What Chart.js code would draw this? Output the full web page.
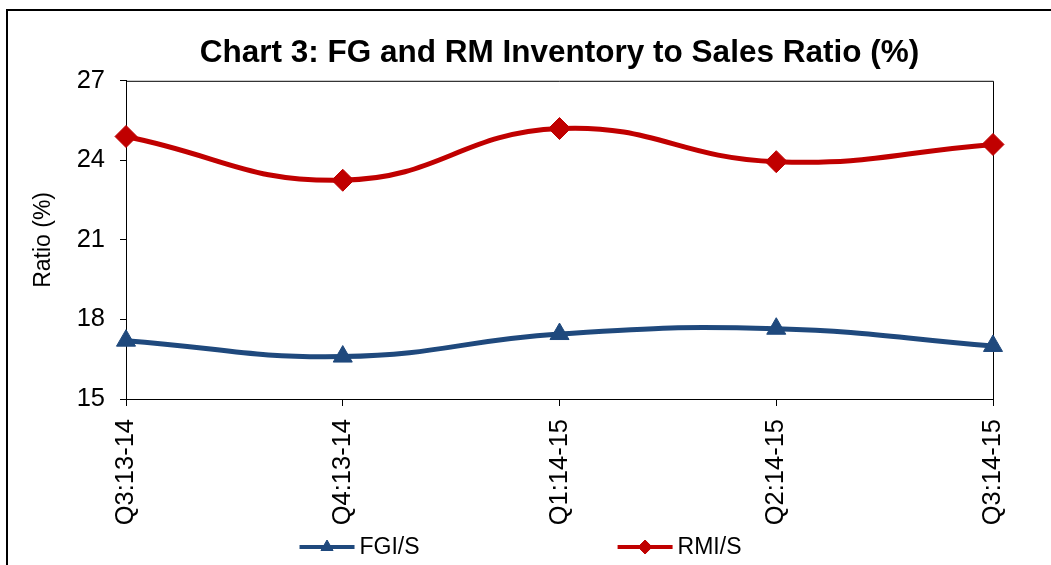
<!DOCTYPE html>
<html>
<head>
<meta charset="utf-8">
<script src="https://cdn.jsdelivr.net/npm/chart.js@4.4.1/dist/chart.umd.min.js"></script>
<style>
  html, body { margin: 0; padding: 0; background: #fff; }
  #wrap { width: 1051px; height: 565px; }
</style>
</head>
<body>
<div id="wrap"><canvas id="grafico" width="1051" height="565"></canvas></div>
<script>
  // Datos
  const trimestres = ['Q3:13-14', 'Q4:13-14', 'Q1:14-15', 'Q2:14-15', 'Q3:14-15'];
  const fgiS = [17.2, 16.6, 17.45, 17.65, 17.0];   // FGI/S
  const rmiS = [24.9, 23.25, 25.2, 23.95, 24.6];   // RMI/S
  const ejeYMin = 15;
  const ejeYMax = 27;
  const ejeYPaso = 3;

  const fuente = "'Liberation Sans', Arial, sans-serif";
  const fuenteTitulo = "'Liberation Sans Narrow', 'Arial Narrow', 'Liberation Sans', sans-serif";

  // Marco exterior y borde del área del gráfico
  const marcos = {
    id: 'marcos',
    beforeDraw(chart) {
      const ctx = chart.ctx;
      ctx.save();
      ctx.fillStyle = '#fff';
      ctx.fillRect(0, 0, chart.width, chart.height);
      ctx.strokeStyle = '#000';
      ctx.lineWidth = 2;
      ctx.beginPath();
      ctx.moveTo(7, chart.height);
      ctx.lineTo(7, 10);
      ctx.lineTo(chart.width, 10);
      ctx.stroke();
      ctx.restore();
    },
    beforeDatasetsDraw(chart) {
      const a = chart.chartArea;
      const ctx = chart.ctx;
      ctx.save();
      ctx.strokeStyle = '#000';
      ctx.lineWidth = 1;
      ctx.beginPath();
      ctx.moveTo(a.left, a.top + 0.5);
      ctx.lineTo(a.right + 0.5, a.top + 0.5);
      ctx.lineTo(a.right + 0.5, a.bottom);
      ctx.stroke();
      ctx.restore();
    }
  };

  // Leyenda con línea y marcador, separada como en el original
  const leyenda = {
    id: 'leyenda',
    afterDraw(chart) {
      const ctx = chart.ctx;
      const largo = 55;
      const separacion = 198;
      ctx.save();
      ctx.font = '23px ' + fuente;
      const anchos = chart.data.datasets.map(ds => largo + 5 + ctx.measureText(ds.label).width);
      const total = anchos.reduce((s, w) => s + w, 0) + separacion * (anchos.length - 1);
      let x = chart.width / 2 - 5 - total / 2;
      const y = chart.height - 18;
      chart.data.datasets.forEach((ds, i) => {
        ctx.strokeStyle = ds.borderColor;
        ctx.fillStyle = ds.backgroundColor;
        ctx.lineWidth = 4;
        ctx.beginPath();
        ctx.moveTo(x, y);
        ctx.lineTo(x + largo, y);
        ctx.stroke();
        ctx.lineWidth = 1;
        Chart.helpers.drawPoint(ctx, { pointStyle: ds.pointStyle, radius: 7, rotation: 0, borderWidth: 1 }, x + largo / 2, y);
        ctx.fillStyle = '#000';
        ctx.textBaseline = 'middle';
        ctx.textAlign = 'left';
        ctx.fillText(ds.label, x + largo + 5, y + 1);
        x += anchos[i] + separacion;
      });
      ctx.restore();
    }
  };

  new Chart(document.getElementById('grafico').getContext('2d'), {
    type: 'line',
    data: {
      labels: trimestres,
      datasets: [{
        label: 'FGI/S',
        data: fgiS,
        borderColor: '#1F497D',
        backgroundColor: '#1F497D',
        borderWidth: 5,
        pointStyle: 'triangle',
        pointRadius: 11,
        pointBorderWidth: 1,
        tension: 0.45,
        clip: false
      }, {
        label: 'RMI/S',
        data: rmiS,
        borderColor: '#C00000',
        backgroundColor: '#C00000',
        borderWidth: 5,
        pointStyle: 'rectRot',
        pointRadius: 11,
        pointBorderWidth: 1,
        tension: 0.45,
        clip: false
      }]
    },
    options: {
      responsive: false,
      animation: false,
      devicePixelRatio: 1,
      layout: { padding: { left: 0, right: 58, top: 0, bottom: 41 } },
      plugins: {
        legend: { display: false },
        tooltip: { enabled: false },
        title: {
          display: true,
          fullSize: false,
          text: 'Chart 3: FG and RM Inventory to Sales Ratio (%)',
          color: '#000',
          font: { family: fuenteTitulo, size: 31.5, weight: 'bold' },
          padding: { top: 34, bottom: 9 }
        }
      },
      scales: {
        x: {
          offset: false,
          grid: { display: true, drawOnChartArea: false, tickLength: 7, color: '#000' },
          border: { display: true, color: '#000', width: 1 },
          ticks: {
            autoSkip: false,
            maxRotation: 90,
            minRotation: 90,
            padding: 13,
            color: '#000',
            font: { family: fuente, size: 25.5 }
          },
          afterFit(scale) { scale.height = 125; }
        },
        y: {
          min: ejeYMin,
          max: ejeYMax,
          grid: { display: true, drawOnChartArea: false, tickLength: 6, color: '#000' },
          border: { display: true, color: '#000', width: 1 },
          ticks: {
            stepSize: ejeYPaso,
            padding: 15,
            color: '#000',
            font: { family: fuente, size: 25.5 }
          },
          title: {
            display: true,
            text: 'Ratio (%)',
            color: '#000',
            font: { family: fuente, size: 23 },
            padding: { top: 30, bottom: 0 }
          },
          afterFit(scale) { scale.width = 126; }
        }
      }
    },
    plugins: [marcos, leyenda]
  });
</script>
</body>
</html>
